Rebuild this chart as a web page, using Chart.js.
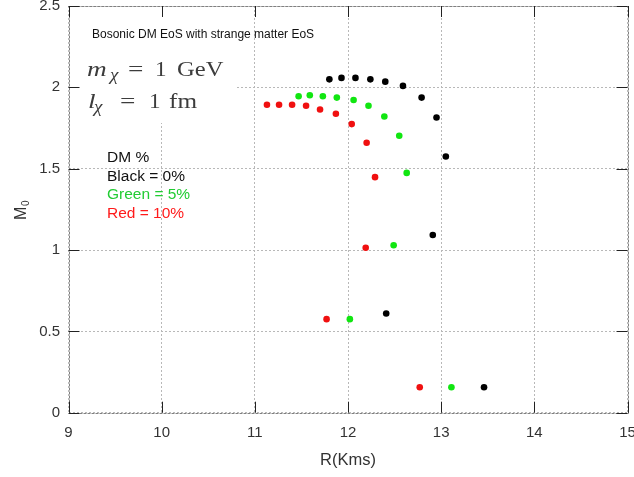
<!DOCTYPE html>
<html>
<head>
<meta charset="utf-8">
<script src="https://cdn.jsdelivr.net/npm/chart.js@4.4.1/dist/chart.umd.min.js"></script>
<style>
    html, body { margin: 0; padding: 0; background: #fff; }
    #chart { display: block; }
</style>
</head>
<body>
<canvas id="chart" width="634" height="477"></canvas>
<script>
// ====================================
// M-R curves, bosonic DM + strange matter EoS
// ====================================

const xTicks = [9, 10, 11, 12, 13, 14, 15];
const yTicks = [0, 0.5, 1, 1.5, 2, 2.5];

// DM 0% (black)
const blackR = [11.80, 11.93, 12.08, 12.24, 12.40, 12.59, 12.79, 12.95, 13.05, 12.91, 12.41, 13.46];
const blackM = [2.049, 2.058, 2.058, 2.049, 2.035, 2.009, 1.937, 1.815, 1.575, 1.092, 0.610, 0.156];

// DM 5% (green)
const greenR = [11.47, 11.59, 11.73, 11.88, 12.06, 12.22, 12.39, 12.55, 12.63, 12.49, 12.02, 13.11];
const greenM = [1.945, 1.951, 1.945, 1.937, 1.922, 1.887, 1.821, 1.702, 1.474, 1.029, 0.575, 0.156];

// DM 10% (red)
const redR = [11.13, 11.26, 11.40, 11.55, 11.70, 11.87, 12.04, 12.20, 12.29, 12.19, 11.77, 12.77];
const redM = [1.893, 1.893, 1.893, 1.887, 1.864, 1.838, 1.774, 1.659, 1.448, 1.014, 0.575, 0.156];

const legendLines = [
    { text: 'DM %', color: '#111' },
    { text: 'Black = 0%', color: '#111' },
    { text: 'Green = 5%', color: '#22cc33' },
    { text: 'Red = 10%', color: '#ff1a1a' }
];

function punti(xs, ys) {
    return xs.map((x, i) => ({ x: x, y: ys[i] }));
}

function serie(label, xs, ys, colore) {
    return {
        label: label,
        data: punti(xs, ys),
        pointRadius: 3.3,
        pointHoverRadius: 3.3,
        pointBackgroundColor: colore,
        pointBorderWidth: 0,
        showLine: false
    };
}

// testo stirato in orizzontale, come nell'originale
function testo(ctx, t, x, y, font, sx) {
    ctx.save();
    ctx.font = font;
    ctx.translate(x, y);
    ctx.scale(sx, 1);
    ctx.fillText(t, 0, 0);
    ctx.restore();
}

const annotazioni = {
    id: 'annotazioni',
    beforeDatasetsDraw(chart) {
        const { ctx, chartArea: a } = chart;
        ctx.save();

        // riquadro bianco dietro le scritte
        ctx.fillStyle = '#fff';
        ctx.fillRect(a.left + 1, a.top + 1, 235 - a.left, 122 - a.top);

        ctx.fillStyle = '#111';
        ctx.textBaseline = 'alphabetic';
        ctx.font = '12px "Liberation Sans", Arial, sans-serif';
        ctx.fillText('Bosonic DM EoS with strange matter EoS', 92, 38);

        // m_chi = 1 GeV
        ctx.fillStyle = '#3c3c3c';
        const serif = '"Liberation Serif", "Times New Roman", serif';
        testo(ctx, 'm', 87, 76, 'italic 21px ' + serif, 1.3);
        testo(ctx, '\u03C7', 110, 80, 'italic 16px ' + serif, 1.2);
        testo(ctx, '=', 128, 76, '21px ' + serif, 1.3);
        testo(ctx, '1', 155, 76, '21px ' + serif, 1.1);
        testo(ctx, 'GeV', 177, 76, '21px ' + serif, 1.17);

        // l_chi = 1 fm
        testo(ctx, 'l', 88, 108, 'italic 21px ' + serif, 1.3);
        testo(ctx, '\u03C7', 94, 112, 'italic 16px ' + serif, 1.2);
        testo(ctx, '=', 120, 108, '21px ' + serif, 1.3);
        testo(ctx, '1', 149, 108, '21px ' + serif, 1.1);
        testo(ctx, 'fm', 169, 108, '21px ' + serif, 1.2);

        // legenda testuale
        ctx.font = '15.5px "Liberation Sans", Arial, sans-serif';
        ctx.textBaseline = 'middle';
        legendLines.forEach((l, i) => {
            ctx.fillStyle = l.color;
            ctx.fillText(l.text, 107, 158 + i * 18.5);
        });

        // titolo asse y: M0
        ctx.fillStyle = '#333';
        ctx.translate(26, 220);
        ctx.rotate(-Math.PI / 2);
        ctx.textBaseline = 'alphabetic';
        ctx.font = '16px "Liberation Sans", Arial, sans-serif';
        ctx.fillText('M', 0, 0);
        ctx.font = '10px "Liberation Sans", Arial, sans-serif';
        ctx.fillText('0', 14, 3);

        ctx.restore();
    },
    afterDraw(chart) {
        const { ctx, chartArea: a, scales } = chart;
        ctx.save();

        // cornice
        ctx.strokeStyle = '#808080';
        ctx.lineWidth = 1;
        ctx.setLineDash([3, 1]);
        ctx.strokeRect(Math.round(a.left) + 0.5, Math.round(a.top) + 0.5,
            Math.round(a.right - a.left), Math.round(a.bottom - a.top));
        ctx.setLineDash([]);

        // tacche verso l'interno
        const L = 11;
        ctx.strokeStyle = '#222';
        ctx.beginPath();
        xTicks.forEach(v => {
            const px = Math.round(scales.x.getPixelForValue(v)) + 0.5;
            ctx.moveTo(px, a.bottom); ctx.lineTo(px, a.bottom - L);
            ctx.moveTo(px, a.top); ctx.lineTo(px, a.top + L);
        });
        yTicks.forEach(v => {
            const py = Math.round(scales.y.getPixelForValue(v)) + 0.5;
            ctx.moveTo(a.left, py); ctx.lineTo(a.left + L, py);
            ctx.moveTo(a.right, py); ctx.lineTo(a.right - L, py);
        });
        ctx.stroke();
        ctx.restore();
    }
};

const fontTick = { family: '"Liberation Sans", Arial, sans-serif', size: 15 };

new Chart(document.getElementById('chart'), {
    type: 'scatter',
    data: {
        datasets: [
            serie('DM 0%', blackR, blackM, '#000000'),
            serie('DM 5%', greenR, greenM, '#11e611'),
            serie('DM 10%', redR, redM, '#f01010')
        ]
    },
    options: {
        responsive: false,
        animation: false,
        devicePixelRatio: 1,
        layout: { padding: { top: 6, right: 6.5, left: 0, bottom: 0 } },
        plugins: {
            legend: { display: false },
            tooltip: { enabled: false }
        },
        scales: {
            x: {
                type: 'linear',
                min: 9,
                max: 15,
                afterBuildTicks: s => { s.ticks = xTicks.map(v => ({ value: v })); },
                afterFit: s => { s.height = 64.3; s.paddingLeft = 0; s.paddingRight = 0; },
                ticks: { color: '#333', font: fontTick, padding: 11, maxRotation: 0, callback: v => String(v) },
                grid: { color: '#b8b8b8', lineWidth: 1, drawTicks: false },
                border: { display: false, dash: [2, 2] },
                title: {
                    display: true,
                    text: 'R(Kms)',
                    color: '#333',
                    font: { family: '"Liberation Sans", Arial, sans-serif', size: 16.5 },
                    padding: { top: 0, bottom: 7 }
                }
            },
            y: {
                type: 'linear',
                min: 0,
                max: 2.5,
                afterBuildTicks: s => { s.ticks = yTicks.map(v => ({ value: v })); },
                afterFit: s => { s.width = 68.5; s.paddingTop = 0; s.paddingBottom = 0; },
                ticks: { color: '#333', font: fontTick, padding: 8.5, callback: v => String(v) },
                grid: { color: '#b8b8b8', lineWidth: 1, drawTicks: false },
                border: { display: false, dash: [2, 2] }
            }
        }
    },
    plugins: [annotazioni]
});
</script>
</body>
</html>
